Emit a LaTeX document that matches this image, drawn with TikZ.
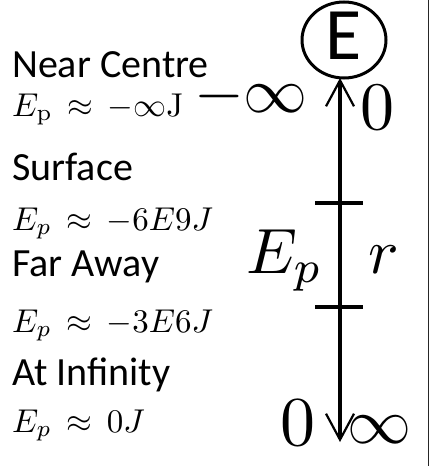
\documentclass[tikz,border=0pt]{standalone}
\usepackage{graphicx}
\usepackage[no-math]{fontspec}
\newfontfamily\calib{Carlito}
\usetikzlibrary{arrows.meta,shapes.geometric}
\newcommand\mscaled[2]{\scalebox{#1}{\normalsize$#2$}}
\tikzset{
  lbl/.style={anchor=base west, inner sep=0pt, font=\calib\fontsize{40}{40}\selectfont},
  eq/.style={anchor=base west, inner sep=0pt},
  big/.style={anchor=base west, inner sep=0pt},
  axis/.style={line width=4pt},
  tick/.style={line width=4pt},
  barb/.style={-{Straight Barb[length=26pt, width=28pt, line width=2.2pt]}}
}
\begin{document}
\begin{tikzpicture}[x=1pt,y=-1pt]
\useasboundingbox (0,0) rectangle (430,466);
\fill[white] (0,0) rectangle (430,466);
\draw[black!85, line width=1pt] (428.5,0) -- (428.5,466);
% circle E
\node[draw, ellipse, line width=3pt, minimum width=84pt, minimum height=76pt, inner sep=0pt] (earth) at (344,40) {};
\node[inner sep=0pt, font=\calib\fontsize{74}{74}\selectfont] (elbl) at (344,36) {E};
% axis
\coordinate (top) at (340,78);
\coordinate (bot) at (340,442);
\coordinate (mid) at (340,260);
\draw[axis, barb] (mid) -- (top);
\draw[axis, barb] (mid) -- (bot);
% ticks
\coordinate (t1l) at (315,203); \coordinate (t1r) at (363,203);
\coordinate (t2l) at (315,307); \coordinate (t2r) at (363,307);
\draw[tick] (t1l) -- (t1r);
\draw[tick] (t2l) -- (t2r);
% left labels
\node[lbl] (l1) at (12,77) {Near Centre};
\node[eq] (e1) at (12,116) {\mscaled{3.3}{E_{\mathrm{p}}\,\approx\,-\infty\mathrm{J}}};
\node[lbl] (l2) at (12,180) {Surface};
\node[eq] (e2) at (12,230) {\mscaled{3.3}{E_p\,\approx\,-6E9J}};
\node[lbl] (l3) at (12,276) {Far Away};
\node[eq] (e3) at (12,332) {\mscaled{3.3}{E_p\,\approx\,-3E6J}};
\node[lbl] (l4) at (12,385) {At Infinity};
\node[eq] (e4) at (12,432) {\mscaled{3.3}{E_p\,\approx\,0J}};
% big labels
\node[big] (minf) at (194,112) {\mscaled{6.4}{-\infty}};
\node[big] (zt) at (360,129) {\mscaled{6.8}{0}};
\node[big] (ep) at (246,273) {\mscaled{6.4}{E_p}};
\node[big] (r) at (368,273) {\mscaled{6.4}{r}};
\node[big] (zb) at (280,445) {\mscaled{7}{0}};
\node[big] (infb) at (347,443) {\mscaled{6.4}{\infty}};
\end{tikzpicture}
\end{document}
